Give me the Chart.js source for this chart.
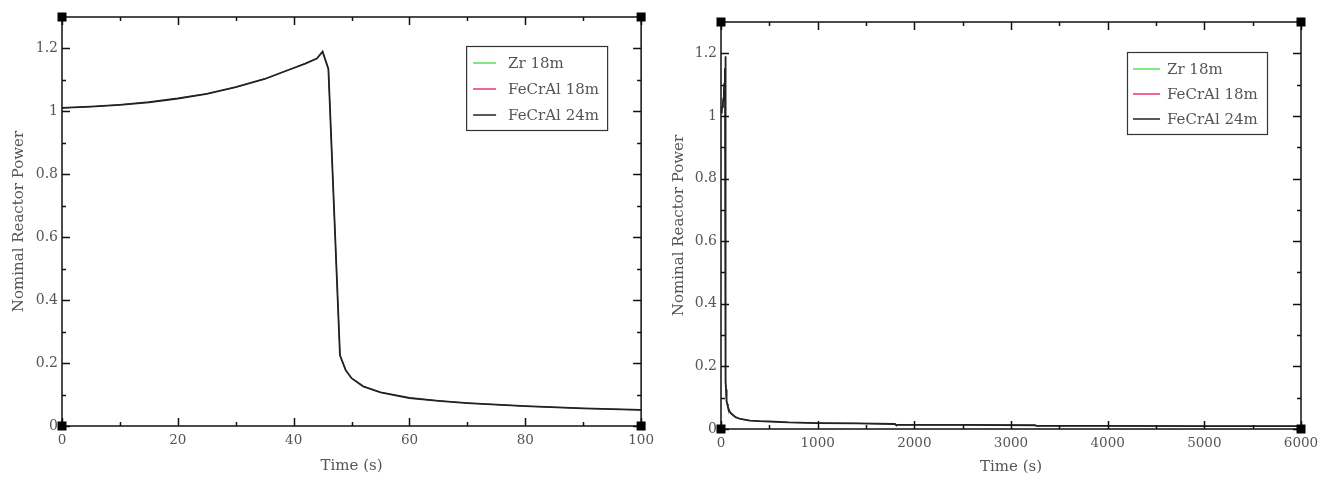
<!DOCTYPE html>
<html>
<head>
<meta charset="utf-8">
<script src="https://cdn.jsdelivr.net/npm/chart.js@4/dist/chart.umd.min.js"></script>
<style>
  html, body { margin: 0; padding: 0; background: #fff; }
  #wrap { position: relative; width: 1328px; height: 479px; }
  #c1 { position: absolute; left: 0; top: 0; }
  #c2 { position: absolute; left: 660px; top: 0; }
</style>
</head>
<body>
<div id="wrap">
  <canvas id="c1" width="660" height="479"></canvas>
  <canvas id="c2" width="668" height="479"></canvas>
</div>
<script>
// ---- data ----
const seriesLabels = ['Zr 18m', 'FeCrAl 18m', 'FeCrAl 24m'];
const time = [0, 5, 10, 15, 20, 25, 30, 35, 40, 42, 44, 45, 46, 48, 49, 50, 52, 55, 60, 65, 70, 80, 90, 100,
              150, 200, 300, 400, 500, 700, 1000, 1400, 1800, 1810, 2500, 3250, 3260, 4000, 5000, 6000];
const zr18 =     [1.011, 1.015, 1.021, 1.029, 1.041, 1.056, 1.077, 1.103, 1.138, 1.152, 1.168, 1.190, 1.135, 0.225, 0.177, 0.152, 0.126, 0.107, 0.089, 0.080, 0.073, 0.063, 0.056, 0.051,
                  0.038, 0.032, 0.027, 0.025, 0.024, 0.021, 0.019, 0.018, 0.016, 0.013, 0.013, 0.012, 0.010, 0.010, 0.009, 0.009];
const fecral18 = [1.011, 1.015, 1.021, 1.029, 1.041, 1.056, 1.077, 1.103, 1.138, 1.152, 1.168, 1.190, 1.135, 0.225, 0.177, 0.152, 0.126, 0.107, 0.089, 0.080, 0.073, 0.063, 0.056, 0.051,
                  0.038, 0.032, 0.027, 0.025, 0.024, 0.021, 0.019, 0.018, 0.016, 0.013, 0.013, 0.012, 0.010, 0.010, 0.009, 0.009];
const fecral24 = [1.011, 1.015, 1.021, 1.029, 1.041, 1.056, 1.077, 1.103, 1.138, 1.152, 1.168, 1.190, 1.135, 0.225, 0.177, 0.152, 0.126, 0.107, 0.089, 0.080, 0.073, 0.063, 0.056, 0.051,
                  0.038, 0.032, 0.027, 0.025, 0.024, 0.021, 0.019, 0.018, 0.016, 0.013, 0.013, 0.012, 0.010, 0.010, 0.009, 0.009];

const yTicks = [0, 0.2, 0.4, 0.6, 0.8, 1, 1.2];
const yMinor = [0.1, 0.3, 0.5, 0.7, 0.9, 1.1];
const xTicksLeft = [0, 20, 40, 60, 80, 100];
const xMinorLeft = [10, 30, 50, 70, 90];
const xTicksRight = [0, 1000, 2000, 3000, 4000, 5000, 6000];
const xMinorRight = [500, 1500, 2500, 3500, 4500, 5500];

// ---- styles ----
const seriesColors = ['#55e055', '#ee3366', '#222222'];
const seriesWidths = [1, 1, 1.8];
const textColor = '#555';
const FONT = 'DejaVu Serif';

function makeData() {
  const vals = [zr18, fecral18, fecral24];
  return {
    datasets: vals.map((v, i) => ({
      label: seriesLabels[i],
      data: time.map((t, j) => ({ x: t, y: v[j] })),
      borderColor: seriesColors[i],
      backgroundColor: seriesColors[i],
      borderWidth: seriesWidths[i],
      pointRadius: 0,
      tension: 0,
      order: 2 - i
    }))
  };
}

const framePlugin = {
  id: 'frame',
  afterDatasetsDraw(chart, args, opts) {
    const { ctx, chartArea: a, scales: { x, y } } = chart;
    ctx.save();
    ctx.strokeStyle = '#111';
    ctx.lineWidth = 1.5;
    ctx.beginPath();
    const major = 8, minor = 4;
    opts.xMajor.forEach(v => {
      const p = Math.round(x.getPixelForValue(v)) + 0.5;
      ctx.moveTo(p, a.bottom); ctx.lineTo(p, a.bottom - major);
      ctx.moveTo(p, a.top); ctx.lineTo(p, a.top + major);
    });
    opts.xMinor.forEach(v => {
      const p = Math.round(x.getPixelForValue(v)) + 0.5;
      ctx.moveTo(p, a.bottom); ctx.lineTo(p, a.bottom - minor);
      ctx.moveTo(p, a.top); ctx.lineTo(p, a.top + minor);
    });
    opts.yMajor.forEach(v => {
      const p = Math.round(y.getPixelForValue(v)) + 0.5;
      ctx.moveTo(a.left, p); ctx.lineTo(a.left + major, p);
      ctx.moveTo(a.right, p); ctx.lineTo(a.right - major, p);
    });
    opts.yMinor.forEach(v => {
      const p = Math.round(y.getPixelForValue(v)) + 0.5;
      ctx.moveTo(a.left, p); ctx.lineTo(a.left + minor, p);
      ctx.moveTo(a.right, p); ctx.lineTo(a.right - minor, p);
    });
    ctx.stroke();
    ctx.strokeRect(a.left, a.top, a.right - a.left, a.bottom - a.top);
    ctx.fillStyle = '#000';
    const s = 9;
    [[a.left, a.top], [a.right, a.top], [a.left, a.bottom], [a.right, a.bottom]].forEach(([px, py]) => {
      ctx.fillRect(px - s / 2, py - s / 2, s, s);
    });
    ctx.restore();
  }
};

const legendPlugin = {
  id: 'boxLegend',
  afterDraw(chart, args, opts) {
    const { ctx, chartArea: a } = chart;
    const bx = a.right - opts.offRight - opts.w;
    const by = a.top + opts.offTop;
    ctx.save();
    ctx.fillStyle = '#fff';
    ctx.fillRect(bx, by, opts.w, opts.h);
    ctx.strokeStyle = '#333';
    ctx.lineWidth = 1.2;
    ctx.strokeRect(bx + 0.5, by + 0.5, opts.w, opts.h);
    ctx.font = '15px "' + FONT + '"';
    ctx.textBaseline = 'middle';
    chart.data.datasets.forEach((ds, i) => {
      const ry = by + opts.row0 + i * opts.rowGap;
      ctx.strokeStyle = ds.borderColor;
      ctx.lineWidth = 1.5;
      ctx.beginPath();
      ctx.moveTo(bx + opts.lineX0, ry);
      ctx.lineTo(bx + opts.lineX1, ry);
      ctx.stroke();
      ctx.fillStyle = '#555';
      ctx.fillText(ds.label, bx + opts.textX, ry + 1);
    });
    ctx.restore();
  }
};

function makeOptions(cfg) {
  return {
    responsive: false,
    animation: false,
    layout: { padding: { top: cfg.padTop, right: cfg.padRight, bottom: 0, left: 0 } },
    plugins: {
      legend: { display: false },
      tooltip: { enabled: false },
      frame: { xMajor: cfg.xTicks, xMinor: cfg.xMinor, yMajor: yTicks, yMinor: yMinor },
      boxLegend: cfg.legend
    },
    scales: {
      x: {
        type: 'linear',
        min: 0, max: cfg.xMax,
        grid: { display: false, drawTicks: false },
        border: { display: false },
        afterBuildTicks: s => { s.ticks = cfg.xTicks.map(v => ({ value: v })); },
        afterFit: s => { s.height = cfg.xHeight; },
        ticks: {
          padding: cfg.xTickPad,
          color: textColor,
          font: { family: FONT, size: 13.5 },
          maxRotation: 0,
          callback: v => String(v)
        },
        title: {
          display: true,
          text: 'Time (s)',
          color: textColor,
          font: { family: FONT, size: 15 },
          padding: { top: 0, bottom: cfg.xTitlePad }
        }
      },
      y: {
        type: 'linear',
        min: 0, max: 1.3,
        grid: { display: false, drawTicks: false },
        border: { display: false },
        afterBuildTicks: s => { s.ticks = yTicks.map(v => ({ value: v })); },
        afterFit: s => { s.width = cfg.yWidth; },
        ticks: {
          padding: 4,
          color: textColor,
          font: { family: FONT, size: 14 },
          callback: v => String(Math.round(v * 10) / 10)
        },
        title: {
          display: true,
          text: 'Nominal Reactor Power',
          color: textColor,
          font: { family: FONT, size: 15 },
          padding: { top: 10, bottom: 0 }
        }
      }
    }
  };
}

new Chart(document.getElementById('c1'), {
  type: 'line',
  data: makeData(),
  options: makeOptions({
    padTop: 17, padRight: 15, xHeight: 53, yWidth: 62, xMax: 100,
    xTicks: xTicksLeft, xMinor: xMinorLeft, xTickPad: 6, xTitlePad: 4,
    legend: { w: 141, h: 84, offRight: 34, offTop: 29, row0: 17, rowGap: 26, lineX0: 7, lineX1: 30, textX: 42 }
  }),
  plugins: [framePlugin, legendPlugin]
});

new Chart(document.getElementById('c2'), {
  type: 'line',
  data: makeData(),
  options: makeOptions({
    padTop: 22, padRight: 27, xHeight: 50, yWidth: 61, xMax: 6000,
    xTicks: xTicksRight, xMinor: xMinorRight, xTickPad: 6, xTitlePad: 3,
    legend: { w: 140, h: 82, offRight: 34, offTop: 30, row0: 17, rowGap: 25, lineX0: 6, lineX1: 33, textX: 40 }
  }),
  plugins: [framePlugin, legendPlugin]
});
</script>
</body>
</html>
